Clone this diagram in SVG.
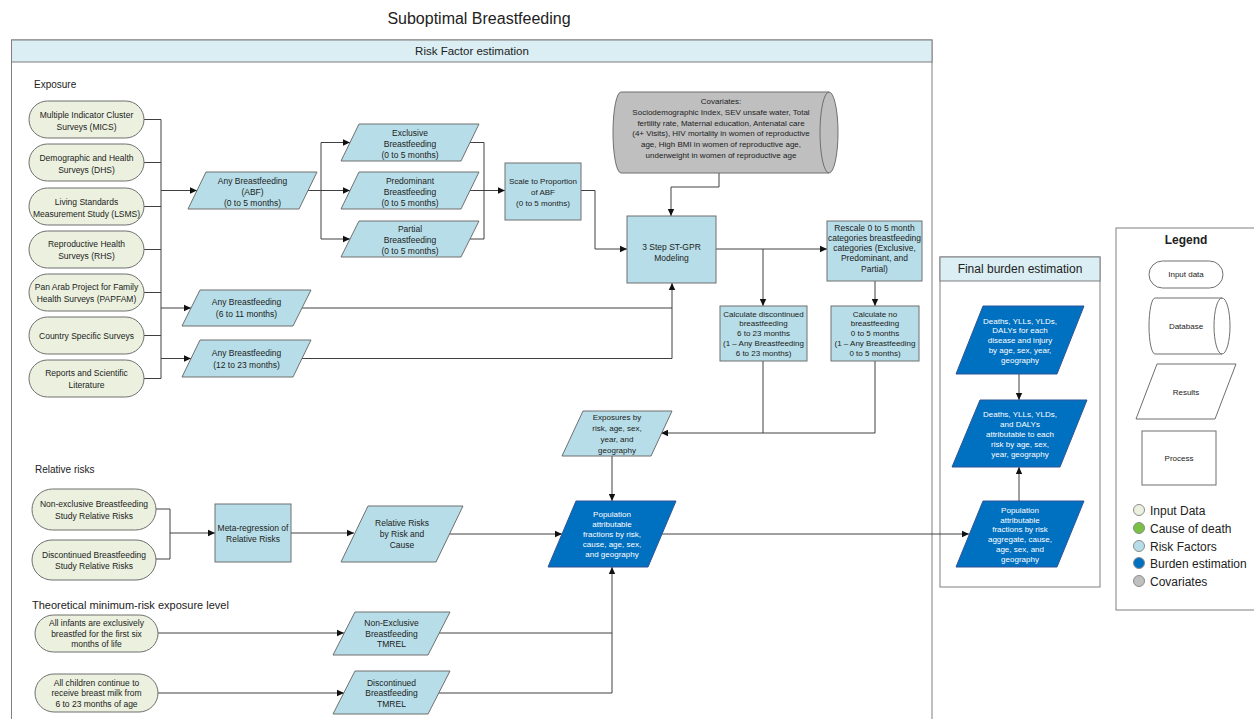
<svg xmlns="http://www.w3.org/2000/svg" width="1254" height="719" viewBox="0 0 1254 719">
<style>
text{font-family:"Liberation Sans",Arial,sans-serif;fill:#222;text-anchor:middle}
.t8{font-size:8px}.t85{font-size:8.5px}.t9{font-size:9px}
.w{fill:#fff}
.in{fill:#EBF1DE;stroke:#6F6F6F;stroke-width:1}
.rf{fill:#B7DEE8;stroke:#6F6F6F;stroke-width:1}
.be{fill:#0070C0;stroke:#2F5597;stroke-width:1}
.cv{fill:#BFBFBF;stroke:#6F6F6F;stroke-width:1}
.frame{fill:#fff;stroke:#7F7F7F;stroke-width:1}
.hdr{fill:#DAEEF3;stroke:#7F7F7F;stroke-width:1}
.lg{fill:#fff;stroke:#6F6F6F;stroke-width:1}
.ln{fill:none;stroke:#404040;stroke-width:1}
.ar{fill:none;stroke:#404040;stroke-width:1;marker-end:url(#ah)}
.sec{font-size:10px;text-anchor:start}
.leg{font-size:12px;text-anchor:start}
</style>
<defs>
<marker id="ah" markerWidth="8" markerHeight="8" refX="7" refY="4" orient="auto" markerUnits="userSpaceOnUse">
<path d="M0,0.8 L7,4 L0,7.2 Z" fill="#111"/>
</marker>
</defs>
<rect width="1254" height="719" fill="#fff"/>
<text x="479" y="24" style="font-size:16px">Suboptimal Breastfeeding</text>

<g id="frame-rf">
<rect class="frame" x="11.5" y="40" width="920.5" height="700"/>
<rect class="hdr" x="11.5" y="40" width="920.5" height="22"/>
<text x="472" y="55" style="font-size:11.5px">Risk Factor estimation</text>
<text class="sec" x="34" y="88">Exposure</text>
<text class="sec" x="35" y="473">Relative risks</text>
<text class="sec" x="32" y="609" style="font-size:11px">Theoretical minimum-risk exposure level</text>
</g>

<g id="frame-fb">
<rect class="frame" x="940" y="257" width="160" height="330"/>
<rect class="hdr" x="940" y="257" width="160" height="24"/>
<text x="1020" y="273" style="font-size:12px">Final burden estimation</text>
</g>

<g id="connectors">
<path class="ln" d="M144,119.5H161M144,162.5H161M144,206.5H161M144,249.5H161M144,292.5H161M144,335.5H161M144,378.5H161M161,119.5V378.5"/>
<path class="ar" d="M161,190.5H197"/>
<path class="ar" d="M161,308H191"/>
<path class="ar" d="M161,358.5H191"/>
<path class="ln" d="M308,190.5H321M321,142.5V239"/>
<path class="ar" d="M321,142.5H350"/>
<path class="ar" d="M321,190.5H350"/>
<path class="ar" d="M321,239H350"/>
<path class="ln" d="M470,142.5H484V239H470"/>
<path class="ar" d="M470,190.5H505"/>
<path class="ar" d="M581,190.5H595V249H627"/>
<path class="ar" d="M719,173V187H671V216"/>
<path class="ar" d="M716,249H827"/>
<path class="ar" d="M763,249V306"/>
<path class="ar" d="M875,281V306"/>
<path class="ln" d="M763,361V433"/>
<path class="ar" d="M875,361V433H661"/>
<path class="ar" d="M302,308H672V283"/>
<path class="ln" d="M302,358.5H672V308"/>
<path class="ar" d="M612,456V501"/>
<path class="ar" d="M662,534H969"/>
<path class="ln" d="M156,509H170M156,559H170M170,509V559"/>
<path class="ar" d="M170,533H215"/>
<path class="ar" d="M291,533H354"/>
<path class="ar" d="M449,534H562"/>
<path class="ar" d="M158,633H344"/>
<path class="ar" d="M158,693H344"/>
<path class="ln" d="M439,633H612"/>
<path class="ar" d="M439,693H612V567"/>
<path class="ar" d="M1019,374V400"/>
<path class="ar" d="M1019,501V467"/>
</g>

<g id="n-mics"><rect class="in" x="29" y="101" width="115" height="37" rx="18.5"/><text class="t85" x="86.5" y="117.5">Multiple Indicator Cluster</text><text class="t85" x="86.5" y="129.5">Surveys (MICS)</text></g>
<g id="n-dhs"><rect class="in" x="29" y="144" width="115" height="37" rx="18.5"/><text class="t85" x="86.5" y="160.5">Demographic and Health</text><text class="t85" x="86.5" y="172.5">Surveys (DHS)</text></g>
<g id="n-lsms"><rect class="in" x="29" y="188" width="115" height="37" rx="18.5"/><text class="t85" x="86.5" y="204.5">Living Standards</text><text class="t85" x="86.5" y="216.5">Measurement Study (LSMS)</text></g>
<g id="n-rhs"><rect class="in" x="29" y="231" width="115" height="37" rx="18.5"/><text class="t85" x="86.5" y="246.5">Reproductive Health</text><text class="t85" x="86.5" y="258.5">Surveys (RHS)</text></g>
<g id="n-papfam"><rect class="in" x="29" y="274" width="115" height="37" rx="18.5"/><text class="t85" x="86.5" y="289.5">Pan Arab Project for Family</text><text class="t85" x="86.5" y="301.5">Health Surveys (PAPFAM)</text></g>
<g id="n-country"><rect class="in" x="29" y="317" width="115" height="37" rx="18.5"/><text class="t85" x="86.5" y="338.5">Country Specific Surveys</text></g>
<g id="n-reports"><rect class="in" x="29" y="360" width="115" height="37" rx="18.5"/><text class="t85" x="86.5" y="375.5">Reports and Scientific</text><text class="t85" x="86.5" y="387.5">Literature</text></g>

<g id="n-abf05"><polygon class="rf" points="206,172 317,172 299,209 188,209"/><text class="t85" x="252.5" y="183.5">Any Breastfeeding</text><text class="t85" x="252.5" y="194.5">(ABF)</text><text class="t85" x="252.5" y="205.5">(0 to 5 months)</text></g>
<g id="n-abf611"><polygon class="rf" points="200,290 311,290 293,326 182,326"/><text class="t85" x="246.5" y="304.5">Any Breastfeeding</text><text class="t85" x="246.5" y="316.5">(6 to 11 months)</text></g>
<g id="n-abf1223"><polygon class="rf" points="200,340 311,340 293,377 182,377"/><text class="t85" x="246.5" y="355.5">Any Breastfeeding</text><text class="t85" x="246.5" y="367.5">(12 to 23 months)</text></g>

<g id="n-excl"><polygon class="rf" points="359,124 479,124 461,161 341,161"/><text class="t85" x="410" y="135.5">Exclusive</text><text class="t85" x="410" y="146.5">Breastfeeding</text><text class="t85" x="410" y="158">(0 to 5 months)</text></g>
<g id="n-pred"><polygon class="rf" points="359,172 479,172 461,209 341,209"/><text class="t85" x="410" y="183.5">Predominant</text><text class="t85" x="410" y="194.5">Breastfeeding</text><text class="t85" x="410" y="205.5">(0 to 5 months)</text></g>
<g id="n-part"><polygon class="rf" points="359,221 479,221 461,257 341,257"/><text class="t85" x="410" y="232">Partial</text><text class="t85" x="410" y="243">Breastfeeding</text><text class="t85" x="410" y="254">(0 to 5 months)</text></g>

<g id="n-scale"><rect class="rf" x="505" y="163" width="76" height="57"/><text class="t8" x="543" y="183.5">Scale to Proportion</text><text class="t8" x="543" y="194.5">of ABF</text><text class="t8" x="543" y="205.5">(0 to 5 months)</text></g>

<g id="n-cov">
<path class="cv" d="M621,92H829A9,40.5 0 0 1 829,173H621A8,40.5 0 0 1 621,92Z"/>
<path class="ln" d="M829,92A9,40.5 0 0 0 829,173" style="stroke:#6F6F6F"/>
<text class="t8" x="721" y="104">Covariates:</text>
<text class="t8" x="721" y="115">Sociodemographic Index, SEV unsafe water, Total</text>
<text class="t8" x="721" y="125.5">fertility rate, Maternal education, Antenatal care</text>
<text class="t8" x="721" y="136">(4+ Visits), HIV mortality in women of reproductive</text>
<text class="t8" x="721" y="147">age, High BMI in women of reproductive age,</text>
<text class="t8" x="721" y="158">underweight in women of reproductive age</text>
</g>

<g id="n-stgpr"><rect class="rf" x="627" y="216" width="89" height="67"/><text class="t85" x="671.5" y="250">3 Step ST-GPR</text><text class="t85" x="671.5" y="261">Modeling</text></g>

<g id="n-rescale"><rect class="rf" x="827" y="221" width="95" height="60"/>
<text class="t85" x="874.5" y="231">Rescale 0 to 5 month</text><text class="t85" x="874.5" y="241">categories breastfeeding</text><text class="t85" x="874.5" y="251">categories (Exclusive,</text><text class="t85" x="874.5" y="261">Predominant, and</text><text class="t85" x="874.5" y="272">Partial)</text></g>

<g id="n-calcdisc"><rect class="rf" x="720" y="306" width="87" height="55"/>
<text class="t8" x="763.5" y="316.5">Calculate discontinued</text><text class="t8" x="763.5" y="326">breastfeeding</text><text class="t8" x="763.5" y="336">6 to 23 months</text><text class="t8" x="763.5" y="346">(1 – Any Breastfeeding</text><text class="t8" x="763.5" y="356">6 to 23 months)</text></g>

<g id="n-calcno"><rect class="rf" x="831" y="306" width="88" height="55"/>
<text class="t8" x="875" y="316.5">Calculate no</text><text class="t8" x="875" y="326">breastfeeding</text><text class="t8" x="875" y="336">0 to 5 months</text><text class="t8" x="875" y="346">(1 – Any Breastfeeding</text><text class="t8" x="875" y="356">0 to 5 months)</text></g>

<g id="n-exposures"><polygon class="rf" points="583,411 672,411 651,456 562,456"/>
<text class="t8" x="617" y="420">Exposures by</text><text class="t8" x="617" y="431">risk, age, sex,</text><text class="t8" x="617" y="442">year, and</text><text class="t8" x="617" y="453">geography</text></g>

<g id="n-paf"><polygon class="be" points="576,501 676,501 648,567 548,567"/>
<text class="t8 w" x="612" y="517">Population</text><text class="t8 w" x="612" y="527">attributable</text><text class="t8 w" x="612" y="537">fractions by risk,</text><text class="t8 w" x="612" y="547">cause, age, sex,</text><text class="t8 w" x="612" y="557">and geography</text></g>

<g id="n-rrne"><rect class="in" x="32" y="489" width="124" height="41" rx="20.5"/><text class="t85" x="94" y="507">Non-exclusive Breastfeeding</text><text class="t85" x="94" y="518.5">Study Relative Risks</text></g>
<g id="n-rrdisc"><rect class="in" x="32" y="540" width="124" height="40" rx="20"/><text class="t85" x="94" y="557.5">Discontinued Breastfeeding</text><text class="t85" x="94" y="569">Study Relative Risks</text></g>
<g id="n-meta"><rect class="rf" x="215" y="504" width="76" height="58"/><text class="t85" x="253" y="531">Meta-regression of</text><text class="t85" x="253" y="542">Relative Risks</text></g>
<g id="n-rr"><polygon class="rf" points="368,506 463,506 436,562 341,562"/><text class="t85" x="402" y="526">Relative Risks</text><text class="t85" x="402" y="537">by Risk and</text><text class="t85" x="402" y="548">Cause</text></g>

<g id="n-infants"><rect class="in" x="35" y="615" width="123" height="37" rx="18.5"/><text class="t85" x="96.5" y="626">All infants are exclusively</text><text class="t85" x="96.5" y="636.5">breastfed for the first six</text><text class="t85" x="96.5" y="647">months of life</text></g>
<g id="n-children"><rect class="in" x="35" y="674" width="123" height="38" rx="19"/><text class="t85" x="96.5" y="685.5">All children continue to</text><text class="t85" x="96.5" y="696">receive breast milk from</text><text class="t85" x="96.5" y="707">6 to 23 months of age</text></g>
<g id="n-tmrel-ne"><polygon class="rf" points="355,612 450,612 428,655 333,655"/><text class="t85" x="391.5" y="626">Non-Exclusive</text><text class="t85" x="391.5" y="636.5">Breastfeeding</text><text class="t85" x="391.5" y="647">TMREL</text></g>
<g id="n-tmrel-disc"><polygon class="rf" points="355,671 450,671 428,714 333,714"/><text class="t85" x="391.5" y="685.5">Discontinued</text><text class="t85" x="391.5" y="696">Breastfeeding</text><text class="t85" x="391.5" y="707">TMREL</text></g>

<g id="n-fb1"><polygon class="be" points="983,306 1084,306 1057,374 956,374"/>
<text class="t8 w" x="1020" y="323.5">Deaths, YLLs, YLDs,</text><text class="t8 w" x="1020" y="333">DALYs for each</text><text class="t8 w" x="1020" y="343">disease and injury</text><text class="t8 w" x="1020" y="353">by age, sex, year,</text><text class="t8 w" x="1020" y="363">geography</text></g>
<g id="n-fb2"><polygon class="be" points="980,400 1087,400 1060,467 952,467"/>
<text class="t8 w" x="1020" y="417">Deaths, YLLs, YLDs,</text><text class="t8 w" x="1020" y="427">and DALYs</text><text class="t8 w" x="1020" y="437">attributable to each</text><text class="t8 w" x="1020" y="447">risk by age, sex,</text><text class="t8 w" x="1020" y="456.5">year, geography</text></g>
<g id="n-fb3"><polygon class="be" points="983,501 1084,501 1057,567 956,567"/>
<text class="t8 w" x="1020" y="513">Population</text><text class="t8 w" x="1020" y="522.5">attributable</text><text class="t8 w" x="1020" y="532">fractions by risk</text><text class="t8 w" x="1020" y="542">aggregate, cause,</text><text class="t8 w" x="1020" y="552">age, sex, and</text><text class="t8 w" x="1020" y="562">geography</text></g>

<g id="legend">
<rect class="frame" x="1116" y="228" width="150" height="382"/>
<text x="1186" y="244" style="font-size:12px;font-weight:bold">Legend</text>
<rect class="lg" x="1149" y="261" width="74" height="27" rx="13.5"/>
<text class="t8" x="1186" y="277">Input data</text>
<path class="lg" d="M1155,298H1222A8,28 0 0 1 1222,354H1155A6,28 0 0 1 1155,298Z"/>
<path class="ln" d="M1222,298A8,28 0 0 0 1222,354" style="stroke:#6F6F6F"/>
<text class="t8" x="1186" y="329">Database</text>
<polygon class="lg" points="1157,364 1236,364 1215,419 1136,419"/>
<text class="t8" x="1186" y="395">Results</text>
<rect class="lg" x="1142" y="431" width="74" height="54"/>
<text class="t8" x="1179" y="461">Process</text>
<circle cx="1139" cy="510" r="5.5" fill="#EBF1DE" stroke="#8C8C8C"/>
<text class="leg" x="1150" y="514.5">Input Data</text>
<circle cx="1139" cy="528" r="5.5" fill="#7AC143" stroke="#8C8C8C"/>
<text class="leg" x="1150" y="532.5">Cause of death</text>
<circle cx="1139" cy="546" r="5.5" fill="#B7DEE8" stroke="#8C8C8C"/>
<text class="leg" x="1150" y="550.5">Risk Factors</text>
<circle cx="1139" cy="563" r="5.5" fill="#0070C0" stroke="#8C8C8C"/>
<text class="leg" x="1150" y="567.5">Burden estimation</text>
<circle cx="1139" cy="581" r="5.5" fill="#BFBFBF" stroke="#8C8C8C"/>
<text class="leg" x="1150" y="585.5">Covariates</text>
</g>
</svg>
